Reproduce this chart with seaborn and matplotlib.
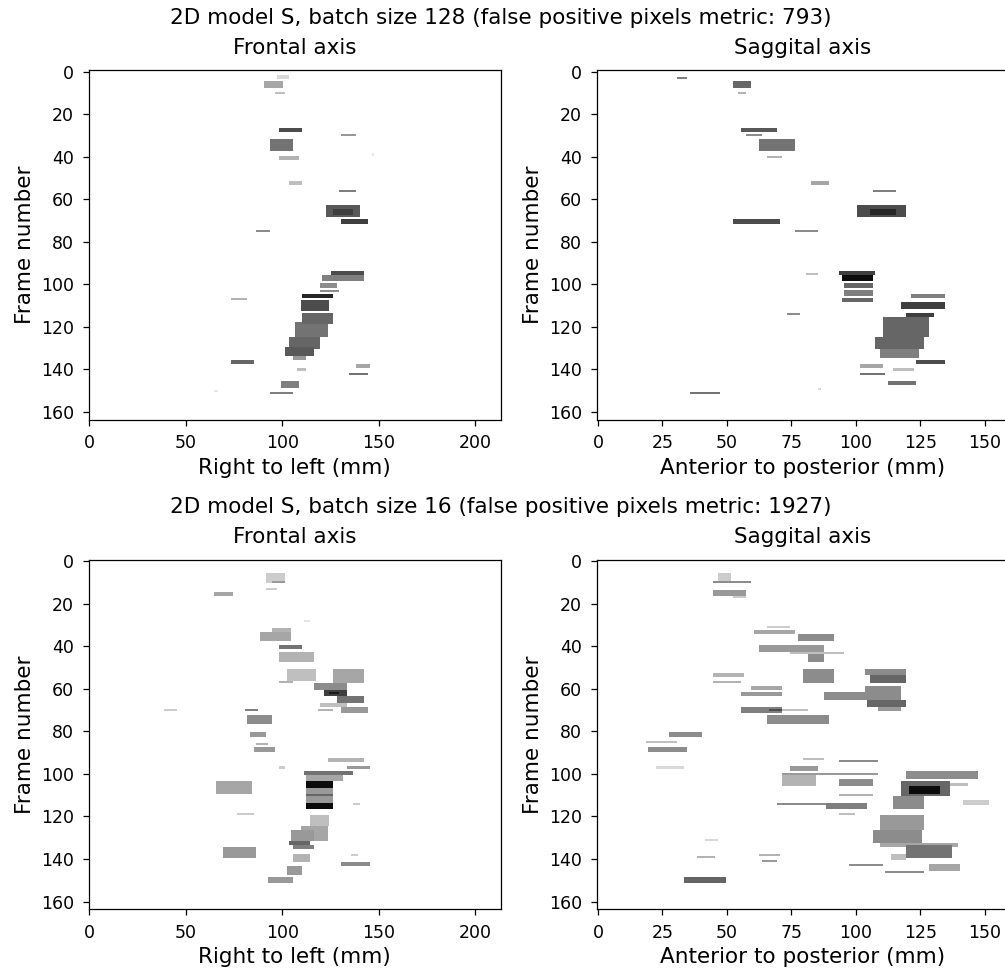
# Frontal / saggital projections of false positive pixels for two batch sizes
import numpy as np
import seaborn as sns
import matplotlib
matplotlib.use("Agg")
import matplotlib.pyplot as plt

n_frames = 164
frontal_width = 214
saggital_width = 160

row_titles = [
    "2D model S, batch size 128 (false positive pixels metric: 793)",
    "2D model S, batch size 16 (false positive pixels metric: 1927)",
]
col_titles = ["Frontal axis", "Saggital axis"]
x_labels = ["Right to left (mm)", "Anterior to posterior (mm)"]
y_label = "Frame number"
frontal_ticks = [0, 50, 100, 150, 200]
saggital_ticks = [0, 25, 50, 75, 100, 125, 150]
frame_ticks = [0, 20, 40, 60, 80, 100, 120, 140, 160]

# segments: (first frame, last frame, mm start, mm end, darkness)
frontal_128 = [
    (2, 3, 98, 104, 0.15), (5, 7, 91, 101, 0.35), (10, 10, 97, 102, 0.25),
    (27, 28, 99, 111, 0.7), (30, 30, 131, 139, 0.4), (32, 37, 94, 106, 0.55),
    (39, 39, 147, 148, 0.1), (40, 41, 99, 109, 0.3), (52, 53, 104, 111, 0.25),
    (56, 56, 130, 139, 0.5), (63, 68, 123, 141, 0.65), (65, 67, 127, 137, 0.75),
    (70, 71, 131, 145, 0.75), (75, 75, 87, 94, 0.45), (94, 95, 126, 143, 0.7),
    (96, 98, 121, 143, 0.5), (100, 101, 120, 129, 0.45), (103, 103, 120, 130, 0.45),
    (105, 106, 111, 127, 0.85), (107, 107, 74, 82, 0.3), (108, 112, 110, 125, 0.7),
    (114, 118, 111, 127, 0.6), (118, 124, 107, 124, 0.55), (125, 130, 104, 120, 0.6),
    (130, 133, 102, 117, 0.65), (133, 135, 106, 113, 0.4), (136, 137, 74, 86, 0.6),
    (138, 139, 139, 146, 0.35), (140, 140, 108, 113, 0.25), (142, 142, 135, 145, 0.55),
    (146, 148, 100, 109, 0.5), (151, 151, 94, 106, 0.5), (150, 150, 65, 67, 0.1),
]
saggital_128 = [
    (3, 3, 31, 35, 0.5), (5, 7, 53, 60, 0.6), (10, 10, 55, 58, 0.3),
    (27, 28, 56, 70, 0.65), (30, 30, 58, 64, 0.45), (32, 37, 63, 77, 0.55),
    (40, 40, 66, 72, 0.3), (52, 53, 83, 90, 0.35), (56, 56, 107, 116, 0.5),
    (63, 68, 101, 120, 0.7), (65, 67, 106, 116, 0.85), (70, 71, 53, 71, 0.7),
    (75, 75, 77, 86, 0.45), (95, 95, 81, 86, 0.25), (94, 95, 94, 108, 0.75),
    (96, 98, 95, 107, 0.95), (100, 101, 96, 107, 0.6), (103, 105, 96, 107, 0.5),
    (107, 108, 95, 107, 0.6), (105, 106, 122, 135, 0.5), (109, 111, 118, 135, 0.75),
    (114, 114, 74, 79, 0.45), (114, 115, 120, 131, 0.75), (116, 124, 111, 129, 0.6),
    (125, 130, 108, 127, 0.6), (131, 134, 110, 125, 0.5), (136, 137, 124, 135, 0.7),
    (138, 139, 102, 111, 0.35), (140, 140, 115, 123, 0.25), (142, 142, 102, 112, 0.55),
    (146, 147, 113, 124, 0.55), (151, 151, 36, 48, 0.55), (149, 149, 86, 87, 0.15),
]
frontal_16 = [
    (6, 10, 92, 102, 0.2), (10, 10, 95, 102, 0.4), (13, 13, 92, 98, 0.2),
    (15, 16, 65, 75, 0.35), (28, 28, 112, 115, 0.1), (32, 33, 95, 105, 0.3),
    (34, 37, 89, 105, 0.35), (40, 41, 99, 111, 0.55), (43, 47, 99, 117, 0.3),
    (51, 56, 103, 118, 0.25), (57, 57, 99, 106, 0.3), (51, 57, 127, 143, 0.35),
    (58, 60, 117, 134, 0.45), (61, 63, 122, 134, 0.75), (62, 62, 125, 130, 0.9),
    (64, 66, 129, 143, 0.55), (67, 68, 120, 134, 0.25), (69, 71, 131, 145, 0.4),
    (70, 70, 119, 127, 0.3), (70, 70, 39, 46, 0.2), (70, 70, 81, 88, 0.5),
    (73, 76, 82, 95, 0.45), (81, 82, 84, 92, 0.4), (86, 86, 87, 93, 0.3),
    (88, 89, 86, 97, 0.4), (97, 97, 99, 102, 0.2), (93, 94, 124, 143, 0.3),
    (97, 97, 134, 146, 0.4), (99, 100, 112, 137, 0.55), (101, 103, 113, 132, 0.35),
    (104, 106, 113, 127, 0.95), (107, 113, 113, 127, 0.4), (110, 110, 113, 127, 0.6),
    (114, 116, 113, 127, 0.95), (104, 109, 66, 85, 0.35), (114, 114, 137, 141, 0.2),
    (119, 119, 77, 86, 0.2), (120, 124, 115, 125, 0.25), (125, 131, 110, 124, 0.35),
    (127, 131, 105, 117, 0.4), (132, 133, 104, 115, 0.6), (134, 135, 106, 117, 0.5),
    (135, 139, 70, 87, 0.4), (138, 141, 106, 115, 0.3), (138, 138, 136, 140, 0.2),
    (142, 143, 131, 146, 0.45), (144, 147, 103, 111, 0.4), (149, 151, 93, 106, 0.4),
]
saggital_16 = [
    (6, 9, 47, 52, 0.2), (10, 10, 45, 60, 0.45), (14, 16, 45, 58, 0.4),
    (17, 17, 53, 58, 0.2), (31, 31, 66, 75, 0.2), (33, 34, 61, 77, 0.35),
    (35, 37, 78, 92, 0.45), (40, 42, 63, 88, 0.4), (43, 43, 75, 96, 0.25),
    (44, 47, 82, 88, 0.45), (51, 57, 80, 92, 0.45), (53, 54, 45, 57, 0.3),
    (57, 57, 45, 56, 0.3), (51, 53, 104, 120, 0.45), (54, 57, 106, 120, 0.6),
    (59, 62, 104, 118, 0.45), (62, 65, 88, 118, 0.45), (66, 68, 105, 120, 0.6),
    (69, 70, 109, 118, 0.4), (59, 60, 60, 72, 0.35), (62, 63, 56, 72, 0.4),
    (69, 71, 56, 72, 0.5), (70, 70, 67, 72, 0.7), (70, 70, 72, 82, 0.25),
    (73, 76, 66, 90, 0.45), (81, 82, 28, 41, 0.45), (85, 85, 19, 31, 0.25),
    (88, 89, 20, 35, 0.45), (97, 97, 23, 34, 0.15), (93, 93, 80, 88, 0.25),
    (94, 94, 94, 109, 0.45), (97, 98, 75, 86, 0.4), (100, 100, 72, 109, 0.4),
    (101, 105, 72, 85, 0.3), (103, 105, 94, 107, 0.45), (110, 110, 94, 107, 0.3),
    (99, 102, 120, 148, 0.45), (104, 110, 118, 137, 0.6), (106, 109, 121, 133, 0.95),
    (105, 105, 137, 144, 0.25), (114, 114, 70, 90, 0.45), (114, 116, 89, 105, 0.5),
    (119, 119, 94, 100, 0.25), (111, 116, 115, 127, 0.45), (113, 114, 142, 152, 0.2),
    (120, 126, 110, 127, 0.4), (127, 132, 107, 126, 0.45), (133, 134, 110, 140, 0.35),
    (134, 139, 120, 138, 0.55), (138, 140, 114, 120, 0.25), (143, 143, 98, 111, 0.45),
    (146, 146, 112, 127, 0.45), (143, 145, 129, 141, 0.35), (149, 151, 34, 50, 0.6),
    (139, 139, 39, 46, 0.3), (131, 131, 42, 47, 0.15), (138, 138, 63, 71, 0.3),
    (141, 141, 64, 70, 0.4),
]


def to_image(segments, width):
    img = np.zeros((n_frames, width))
    for f0, f1, x0, x1, v in segments:
        block = img[f0:f1 + 1, x0:x1]
        np.maximum(block, v, out=block)
    return img


def draw_panel(ax, img, title, xlabel, xticks):
    sns.heatmap(img, ax=ax, cmap="gray_r", vmin=0, vmax=1, cbar=False,
                xticklabels=False, yticklabels=False)
    # heatmap cells span i..i+1, so put the ticks on cell centres like imshow
    ax.set_xticks(np.array(xticks) + 0.5, [str(t) for t in xticks])
    ax.set_yticks(np.array(frame_ticks) + 0.5, [str(t) for t in frame_ticks])
    ax.tick_params(length=4.5, width=0.9, pad=6, labelsize=12.5, rotation=0)
    for s in ax.spines.values():
        s.set_visible(True)
        s.set_linewidth(0.9)
        s.set_color("black")
    ax.set_title(title, fontsize=15.5, pad=12)
    ax.set_xlabel(xlabel, fontsize=15.5)
    ax.set_ylabel(y_label, fontsize=15.5)


W, H = 1005, 971
fig = plt.figure(figsize=(W / 100, H / 100), dpi=100)

panels = [
    [to_image(frontal_128, frontal_width), to_image(saggital_128, saggital_width)],
    [to_image(frontal_16, frontal_width), to_image(saggital_16, saggital_width)],
]
lefts = [88.5, 596.7]
tops = [70.5, 560.0]
ax_w, ax_h = 412.5, 349.0

for r in range(2):
    for c in range(2):
        ax = fig.add_axes([lefts[c] / W, 1 - (tops[r] + ax_h) / H, ax_w / W, ax_h / H])
        ticks = frontal_ticks if c == 0 else saggital_ticks
        draw_panel(ax, panels[r][c], col_titles[c], x_labels[c], ticks)

fig.text(501 / W, 1 - 18 / H, row_titles[0], ha="center", va="center", fontsize=15.5)
fig.text(501 / W, 1 - 507 / H, row_titles[1], ha="center", va="center", fontsize=15.5)

fig.savefig("out.png", dpi=100)
